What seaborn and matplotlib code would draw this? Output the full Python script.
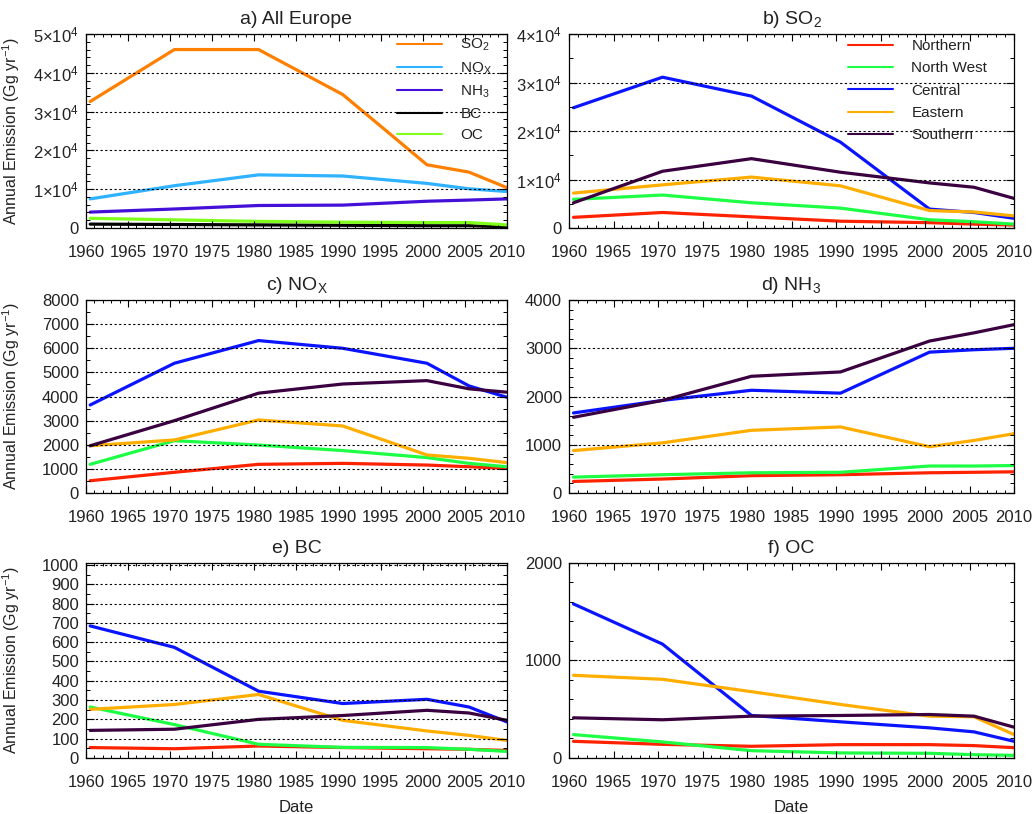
import matplotlib
matplotlib.use("Agg")
import matplotlib.pyplot as plt
import matplotlib.ticker as mticker
import pandas as pd
import seaborn as sns

# sample points (mid-year), last point at 2010
YEARS = [1960.5, 1970.5, 1980.5, 1990.5, 2000.5, 2005.5, 2010.0]

# a) All Europe, Gg/yr
EU_SO2 = [32600, 46000, 46000, 34400, 16300, 14400, 10400]
EU_NOX = [7500, 10900, 13700, 13400, 11500, 10100, 9400]
EU_NH3 = [4100, 4900, 5800, 5900, 6900, 7200, 7500]
EU_BC = [1000, 900, 800, 700, 600, 600, 300]
EU_OC = [2500, 2100, 1700, 1500, 1400, 1400, 800]

# b) SO2 by region
SO2_NORTHERN = [2200, 3200, 2300, 1400, 1100, 800, 600]
SO2_NORTHWEST = [5900, 6800, 5200, 4100, 1700, 1300, 800]
SO2_CENTRAL = [24800, 31100, 27200, 17700, 3900, 3200, 2000]
SO2_EASTERN = [7200, 8900, 10500, 8700, 3600, 3300, 2500]
SO2_SOUTHERN = [5200, 11700, 14300, 11500, 9300, 8400, 6100]

# c) NOx by region
NOX_NORTHERN = [510, 860, 1190, 1230, 1160, 1090, 1020]
NOX_NORTHWEST = [1190, 2170, 1990, 1760, 1470, 1230, 1090]
NOX_CENTRAL = [3650, 5380, 6320, 6000, 5380, 4440, 3970]
NOX_EASTERN = [1960, 2200, 3030, 2780, 1580, 1440, 1260]
NOX_SOUTHERN = [1960, 3000, 4140, 4520, 4660, 4320, 4180]

# d) NH3 by region
NH3_NORTHERN = [240, 290, 360, 380, 420, 430, 440]
NH3_NORTHWEST = [330, 380, 420, 430, 560, 560, 570]
NH3_CENTRAL = [1660, 1920, 2130, 2070, 2920, 2970, 3000]
NH3_EASTERN = [880, 1040, 1300, 1370, 960, 1090, 1230]
NH3_SOUTHERN = [1570, 1920, 2420, 2510, 3150, 3320, 3490]

# e) BC by region
BC_NORTHERN = [54, 48, 62, 54, 48, 45, 39]
BC_NORTHWEST = [264, 173, 71, 55, 54, 45, 34]
BC_CENTRAL = [684, 573, 346, 282, 304, 264, 187]
BC_EASTERN = [252, 277, 329, 195, 140, 117, 91]
BC_SOUTHERN = [143, 149, 200, 220, 247, 233, 195]

# f) OC by region
OC_NORTHERN = [171, 140, 120, 137, 137, 127, 106]
OC_NORTHWEST = [240, 165, 75, 52, 48, 34, 27]
OC_CENTRAL = [1580, 1168, 436, 371, 309, 268, 171]
OC_EASTERN = [848, 807, 680, 549, 429, 423, 240]
OC_SOUTHERN = [412, 392, 429, 436, 446, 429, 316]

SPECIES = ["SO$_2$", "NO$_X$", "NH$_3$", "BC", "OC"]
REGIONS = ["Northern", "North West", "Central", "Eastern", "Southern"]
SPECIES_COLORS = ["#ff7f00", "#2fb2ff", "#4410d8", "#000000", "#7fff1a"]
REGION_COLORS = ["#ff2200", "#1cff44", "#0a14ff", "#ffae00", "#3a0040"]

sns.set_theme(style="ticks")
plt.rcParams.update({
    "font.family": ["Liberation Sans", "DejaVu Sans"],
    "mathtext.default": "regular",
    "xtick.direction": "in", "ytick.direction": "in",
    "xtick.top": True, "ytick.right": True,
    "xtick.major.size": 5, "xtick.minor.size": 2.5,
    "ytick.major.size": 5.5, "ytick.minor.size": 3,
    "xtick.major.width": 0.8, "ytick.major.width": 0.8,
    "xtick.minor.width": 0.7, "ytick.minor.width": 0.7,
    "axes.linewidth": 0.9, "axes.edgecolor": "black",
    "xtick.color": "black", "ytick.color": "black",
    "text.color": "#222222", "axes.labelcolor": "#222222",
    "xtick.labelcolor": "#222222", "ytick.labelcolor": "#222222",
})


def long_frame(names, series):
    rows = []
    for name, vals in zip(names, series):
        for yr, v in zip(YEARS, vals):
            rows.append({"year": yr, "value": v, "series": name})
    return pd.DataFrame(rows)


def sci_fmt(v, _pos=None):
    if v == 0:
        return "0"
    return f"{v / 1e4:.0f}\u00d710$^{{4}}$"


panels = [
    dict(rect=[0.0833, 0.7199, 0.4079, 0.2383], title="a) All Europe",
         names=SPECIES, colors=SPECIES_COLORS,
         series=[EU_SO2, EU_NOX, EU_NH3, EU_BC, EU_OC],
         ylim=(0, 50000), step=10000, minor=5, fmt=sci_fmt,
         legend=(0.739, 0.985, 0.46)),
    dict(rect=[0.5514, 0.7199, 0.4312, 0.2383], title="b) SO$_2$",
         names=REGIONS, colors=REGION_COLORS,
         series=[SO2_NORTHERN, SO2_NORTHWEST, SO2_CENTRAL, SO2_EASTERN, SO2_SOUTHERN],
         ylim=(0, 40000), step=10000, minor=2, fmt=sci_fmt,
         legend=(0.627, 0.975, 0.55)),
    dict(rect=[0.0833, 0.3943, 0.4079, 0.2371], title="c) NO$_X$",
         names=REGIONS, colors=REGION_COLORS,
         series=[NOX_NORTHERN, NOX_NORTHWEST, NOX_CENTRAL, NOX_EASTERN, NOX_SOUTHERN],
         ylim=(0, 8000), step=1000, minor=2, fmt=None, legend=None),
    dict(rect=[0.5514, 0.3943, 0.4312, 0.2371], title="d) NH$_3$",
         names=REGIONS, colors=REGION_COLORS,
         series=[NH3_NORTHERN, NH3_NORTHWEST, NH3_CENTRAL, NH3_EASTERN, NH3_SOUTHERN],
         ylim=(0, 4000), step=1000, minor=5, fmt=None, legend=None),
    dict(rect=[0.0833, 0.0688, 0.4079, 0.2396], title="e) BC",
         names=REGIONS, colors=REGION_COLORS,
         series=[BC_NORTHERN, BC_NORTHWEST, BC_CENTRAL, BC_EASTERN, BC_SOUTHERN],
         ylim=(0, 1010), step=100, minor=2, fmt=None, legend=None),
    dict(rect=[0.5514, 0.0688, 0.4312, 0.2396], title="f) OC",
         names=REGIONS, colors=REGION_COLORS,
         series=[OC_NORTHERN, OC_NORTHWEST, OC_CENTRAL, OC_EASTERN, OC_SOUTHERN],
         ylim=(0, 2000), step=1000, minor=5, fmt=None, legend=None),
]

fig = plt.figure(figsize=(10.32, 8.14), dpi=100)

for i, p in enumerate(panels):
    ax = fig.add_axes(p["rect"])
    df = long_frame(p["names"], p["series"])
    sns.lineplot(data=df, x="year", y="value", hue="series",
                 hue_order=p["names"], palette=dict(zip(p["names"], p["colors"])),
                 linewidth=2.3, legend=False, errorbar=None, sort=False, ax=ax)

    ax.set_xlim(1960, 2010)
    ax.set_ylim(*p["ylim"])
    ax.xaxis.set_major_locator(mticker.MultipleLocator(5))
    ax.xaxis.set_minor_locator(mticker.MultipleLocator(1))
    ax.yaxis.set_major_locator(mticker.MultipleLocator(p["step"]))
    ax.yaxis.set_minor_locator(mticker.AutoMinorLocator(p["minor"]))
    if p["fmt"] is not None:
        ax.yaxis.set_major_formatter(mticker.FuncFormatter(p["fmt"]))
    ax.tick_params(axis="x", which="major", pad=12, labelsize=12)
    ax.tick_params(axis="y", which="major", pad=5, labelsize=12)
    ax.yaxis.grid(True, which="major", color="black", linewidth=0.8,
                  linestyle=(0, (2, 2.2)))
    ax.set_axisbelow(False)
    for s in ax.spines.values():
        s.set_visible(True)

    ax.set_title(p["title"], fontsize=14, pad=7)
    ax.set_xlabel("")
    ax.set_ylabel("")
    if i % 2 == 0:
        ax.set_ylabel("Annual Emission (Gg yr$^{-1}$)", fontsize=11.5)
        ax.yaxis.set_label_coords(-0.152, 0.5)
    if i >= 4:
        ax.set_xlabel("Date", fontsize=12)
        ax.xaxis.set_label_coords(0.5, -0.215)

    if p["legend"] is not None:
        lx, ly, lsp = p["legend"]
        leg = ax.legend(handles=ax.lines[:5], labels=p["names"],
                        loc="upper left", bbox_to_anchor=(lx, ly),
                        frameon=False, fontsize=11, handlelength=2.95,
                        handletextpad=1.2, labelspacing=lsp,
                        borderpad=0, borderaxespad=0)
        for line in leg.get_lines():
            line.set_linewidth(1.5)

fig.savefig("out.png", dpi=100)
